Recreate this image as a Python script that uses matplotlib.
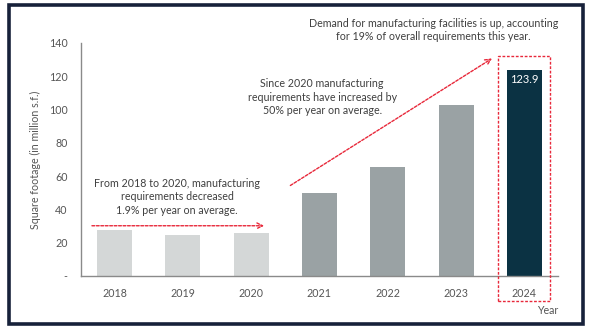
import numpy as np
import matplotlib.pyplot as plt
from matplotlib.patches import Rectangle

years = ["2018", "2019", "2020", "2021", "2022", "2023", "2024"]
values = [27.5, 24.8, 26.0, 50.0, 65.5, 103.0, 123.9]
bar_colors = ["#d4d7d7", "#d4d7d7", "#d4d7d7",
              "#9aa2a4", "#9aa2a4", "#9aa2a4", "#0b3243"]
yticks = [0, 20, 40, 60, 80, 100, 120, 140]
ytick_labels = ["-", "20", "40", "60", "80", "100", "120", "140"]

plt.rcParams["font.family"] = ["Lato", "DejaVu Sans"]
text_col = "#3f3f3f"
red = "#e8283a"
fs = 7.7

fig = plt.figure(figsize=(5.91, 3.30), dpi=100)
ax = fig.add_axes([0.137, 0.1636, 0.807, 0.7061])

x = np.arange(len(years))
ax.bar(x, values, width=0.51, color=bar_colors, zorder=2)
ax.set_xlim(-0.49, 6.49)
ax.set_ylim(0, 140)
ax.set_xticks(x)
ax.set_xticklabels(years, fontsize=fs, color="#555555")
ax.set_yticks(yticks)
ax.set_yticklabels(ytick_labels, fontsize=fs, color="#555555")
ax.tick_params(length=0, pad=8.5, axis="x")
ax.tick_params(length=0, pad=9.5, axis="y")
for s in ["top", "right"]:
    ax.spines[s].set_visible(False)
for s in ["left", "bottom"]:
    ax.spines[s].set_color("#8a8a8a")
    ax.spines[s].set_linewidth(1.0)
ax.set_ylabel("Square footage (in million s.f.)", fontsize=fs, color="#555555", labelpad=6)

# value label on the last bar
ax.text(x[-1], values[-1] - 2.5, f"{values[-1]:.1f}", ha="center", va="top",
        color="white", fontsize=fs + 0.3)

# flat period arrow + note
ax.annotate("", xy=(2.23, 30.2), xytext=(-0.37, 30.2),
            arrowprops=dict(arrowstyle="->", color=red, lw=1.0, ls=(0, (2, 1.2))),
            annotation_clip=False)
ax.text(0.92, 47.5, "From 2018 to 2020, manufacturing\nrequirements decreased\n1.9% per year on average.",
        ha="center", va="center", fontsize=fs, color=text_col, linespacing=1.3)

# growth arrow + note
ax.annotate("", xy=(5.56, 131.6), xytext=(2.54, 53.5),
            arrowprops=dict(arrowstyle="->", color=red, lw=1.0, ls=(0, (2, 1.2))),
            annotation_clip=False)
ax.text(3.04, 107.5, "Since 2020 manufacturing\nrequirements have increased by\n50% per year on average.",
        ha="center", va="center", fontsize=fs, color=text_col, linespacing=1.3)

# highlight box around 2024
ax.add_patch(Rectangle((5.62, -15.0), 0.76, 147.2, fill=False, edgecolor=red,
                       lw=1.0, ls=(0, (2, 1.2)), clip_on=False, zorder=3))

fig.text(0.733, 0.909, "Demand for manufacturing facilities is up, accounting\nfor 19% of overall requirements this year.",
         ha="center", va="center", fontsize=fs, color=text_col, linespacing=1.3)
fig.text(0.944, 0.06, "Year", ha="right", va="center", fontsize=fs, color="#555555")

# navy frame
fig.patches.append(Rectangle((8.75 / 591, 1 - 323.5 / 330), (582.5 - 8.75) / 591, (323.5 - 5) / 330,
                             transform=fig.transFigure, fill=False,
                             edgecolor="#17213a", lw=2.6, zorder=10))

fig.savefig("out.png", dpi=100)
